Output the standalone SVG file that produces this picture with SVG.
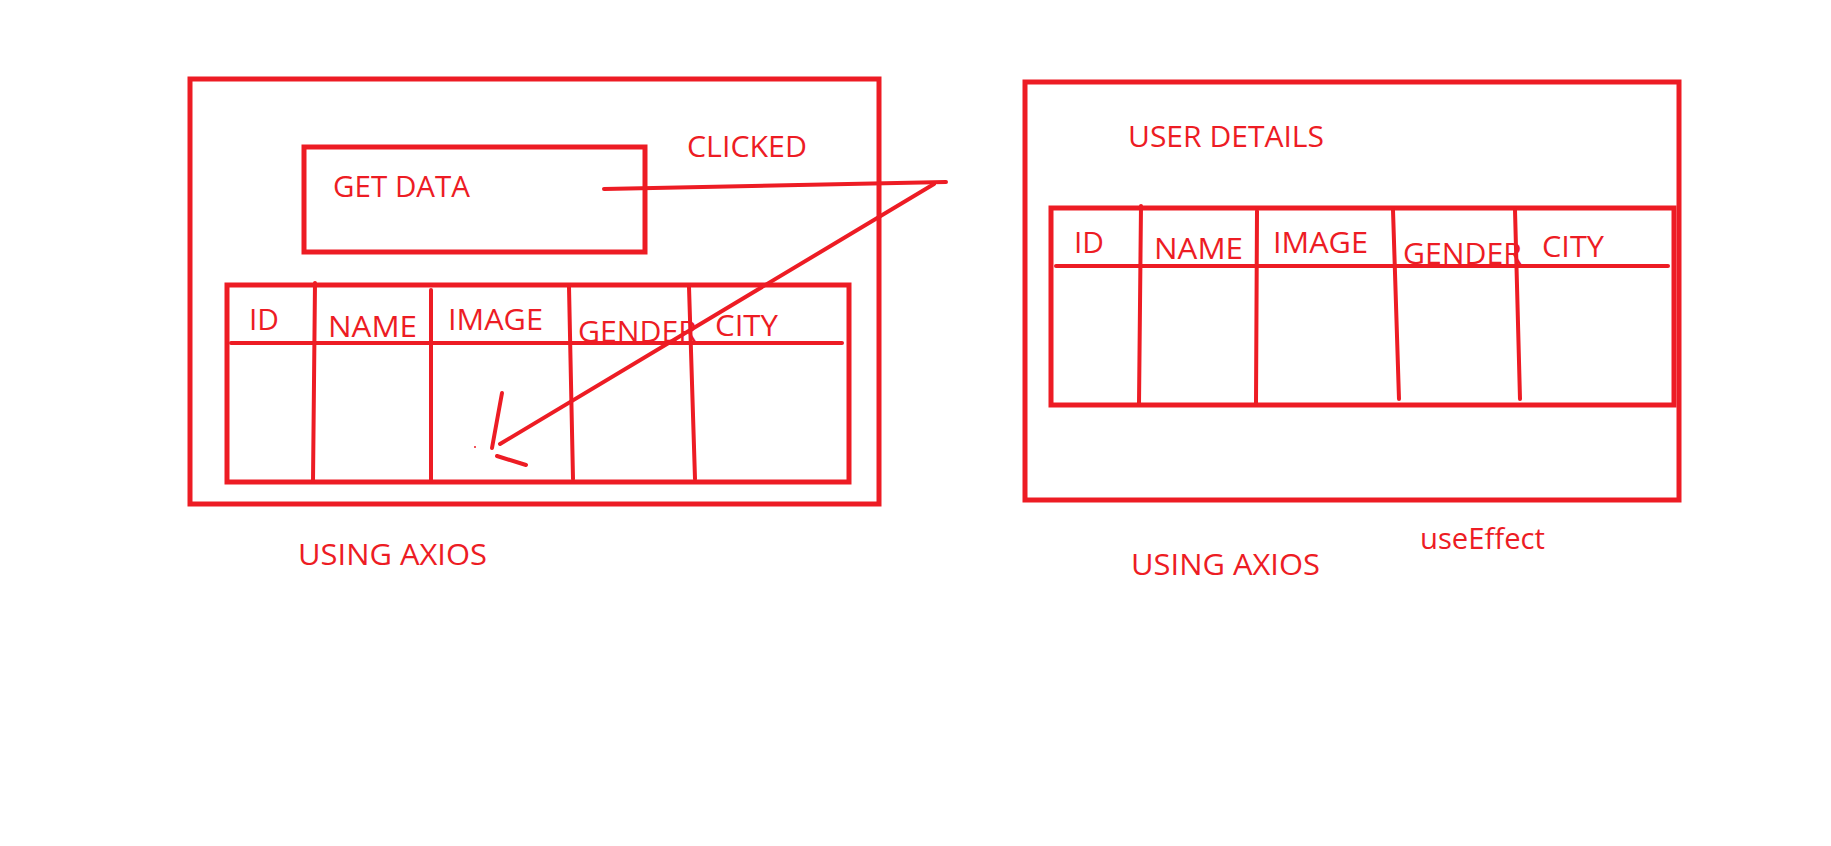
<svg xmlns="http://www.w3.org/2000/svg" width="1831" height="846" viewBox="0 0 1831 846">
<style>
.b{fill:none;stroke:#ED1C24;stroke-width:5}
.l{fill:none;stroke:#ED1C24;stroke-width:4;stroke-linecap:round}
.t{font-family:"Open Sans","Noto Sans",sans-serif;font-size:29px;fill:#ED1C24}
</style>
<rect width="1831" height="846" fill="#fff"/>
<g id="left-screen">
<rect class="b" x="190" y="79" width="689" height="425"/>
<text class="t" x="298" y="565" textLength="189" lengthAdjust="spacingAndGlyphs">USING AXIOS</text>
</g>
<g id="get-data-button">
<rect class="b" x="304" y="147" width="341" height="105"/>
<text class="t" x="333" y="197" textLength="137" lengthAdjust="spacingAndGlyphs">GET DATA</text>
</g>
<g id="left-table">
<rect class="b" x="227" y="285" width="622" height="197"/>
<line class="l" x1="231" y1="343" x2="842" y2="343"/>
<line class="l" x1="315" y1="283" x2="313" y2="481"/>
<line class="l" x1="431" y1="290" x2="431" y2="481"/>
<line class="l" x1="569" y1="287" x2="573" y2="479"/>
<line class="l" x1="689" y1="287" x2="695" y2="479"/>
<text class="t" x="249" y="330" textLength="30" lengthAdjust="spacingAndGlyphs">ID</text>
<text class="t" x="328" y="337" textLength="89" lengthAdjust="spacingAndGlyphs">NAME</text>
<text class="t" x="448" y="330" textLength="95" lengthAdjust="spacingAndGlyphs">IMAGE</text>
<text class="t" x="578" y="342" textLength="119" lengthAdjust="spacingAndGlyphs">GENDER</text>
<text class="t" x="715" y="336" textLength="63" lengthAdjust="spacingAndGlyphs">CITY</text>
</g>
<g id="right-screen">
<rect class="b" x="1025" y="82" width="654" height="418"/>
<text class="t" x="1128" y="147" textLength="196" lengthAdjust="spacingAndGlyphs">USER DETAILS</text>
<text class="t" x="1131" y="575" textLength="189" lengthAdjust="spacingAndGlyphs">USING AXIOS</text>
<text class="t" x="1420" y="549" textLength="125" lengthAdjust="spacingAndGlyphs">useEffect</text>
</g>
<g id="right-table">
<rect class="b" x="1051" y="208" width="623" height="197"/>
<line class="l" x1="1056" y1="266" x2="1668" y2="266"/>
<line class="l" x1="1141" y1="206" x2="1139" y2="404"/>
<line class="l" x1="1257" y1="211" x2="1256" y2="404"/>
<line class="l" x1="1393" y1="210" x2="1399" y2="399"/>
<line class="l" x1="1515" y1="210" x2="1520" y2="399"/>
<text class="t" x="1074" y="253" textLength="30" lengthAdjust="spacingAndGlyphs">ID</text>
<text class="t" x="1154" y="259" textLength="89" lengthAdjust="spacingAndGlyphs">NAME</text>
<text class="t" x="1273" y="253" textLength="95" lengthAdjust="spacingAndGlyphs">IMAGE</text>
<text class="t" x="1403" y="264" textLength="119" lengthAdjust="spacingAndGlyphs">GENDER</text>
<text class="t" x="1542" y="257" textLength="62" lengthAdjust="spacingAndGlyphs">CITY</text>
</g>
<g id="clicked-label">
<text class="t" x="687" y="157" textLength="120" lengthAdjust="spacingAndGlyphs">CLICKED</text>
</g>
<g id="connectors">
<polyline class="l" points="604,189 946,182"/>
<polyline class="l" points="934,184 500,444"/>
<line class="l" x1="502" y1="393" x2="492" y2="448"/>
<line class="l" x1="497" y1="456" x2="526" y2="465"/>
<circle cx="475" cy="447" r="1" fill="#ED1C24"/>
</g>
</svg>
